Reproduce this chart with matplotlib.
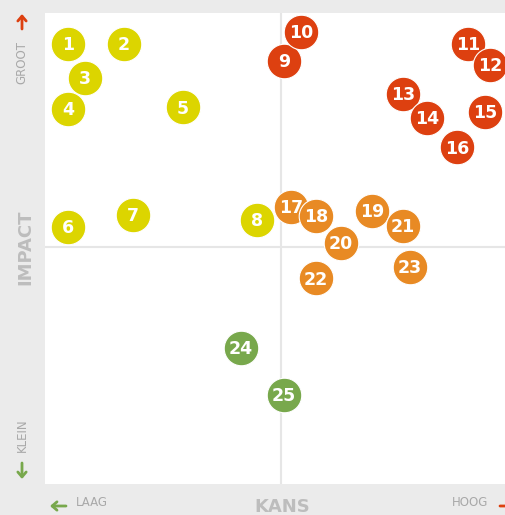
import matplotlib.pyplot as plt

# risk id, chance (kans) and impact on a 0-100 scale
ids = list(range(1, 26))
kans = [5.0, 17.1, 8.7, 5.0, 29.9, 5.0, 19.1, 46.0,
        51.8, 55.5, 91.8, 96.5, 77.7, 82.9, 95.4, 89.4,
        53.4, 58.8, 70.9, 64.2, 77.7, 58.8, 79.2,
        42.5, 51.8]
impact = [93.4, 93.4, 86.2, 79.6, 80.0, 54.6, 57.1, 56.1,
          89.8, 96.0, 93.4, 89.0, 82.8, 77.7, 79.0, 71.5,
          58.8, 56.9, 58.0, 51.2, 54.8, 43.7, 46.1,
          28.9, 18.9]
groups = ["geel"] * 8 + ["rood"] * 8 + ["oranje"] * 7 + ["groen"] * 2

COLORS = {"geel": "#dcd500", "rood": "#dd4010", "oranje": "#e88a24", "groen": "#78a84c"}
GRAY_BG = "#ebebeb"
TXT = "#a8a8a8"
H = 515

fig = plt.figure(figsize=(5.06, 5.15), dpi=100)
fig.patch.set_facecolor(GRAY_BG)
ax = fig.add_axes([45 / 506, 31 / 515, 461 / 506, 471 / 515])
ax.set_facecolor("white")
ax.set_xlim(0, 100)
ax.set_ylim(0, 100)
for s in ax.spines.values():
    s.set_visible(False)
ax.set_xticks([])
ax.set_yticks([])

# quadrant lines
ax.axvline(51.2, color="#e6e6e6", lw=1.5, zorder=0)
ax.axhline(50.3, color="#e6e6e6", lw=1.5, zorder=0)

for i, x, y, g in zip(ids, kans, impact, groups):
    ax.scatter([x], [y], s=620, color=COLORS[g], edgecolors="white",
               linewidths=0.8, zorder=2 + i * 0.01, clip_on=False)
    ax.text(x, y - 0.3, str(i), color="white", fontsize=12.5, fontweight="bold",
            ha="center", va="center", zorder=2 + i * 0.01 + 0.005)


def arrow(x0, y0, x1, y1, color):
    # coordinates in pixels from the top-left corner
    fig.add_artist(plt.Annotation(
        "", xy=(x1, H - y1), xytext=(x0, H - y0), xycoords="figure pixels",
        arrowprops=dict(arrowstyle="->,head_length=0.35,head_width=0.3",
                        color=color, lw=2, shrinkA=0, shrinkB=0)))


# axis labels
arrow(22, 29, 22, 14, "#dd4010")
fig.text(22 / 506, 1 - 63 / 515, "GROOT", color=TXT, fontsize=8.5, rotation=90,
         ha="center", va="center")
fig.text(25 / 506, 1 - 247 / 515, "IMPACT", color="#bdbdbd", fontsize=13,
         fontweight="bold", rotation=90, ha="center", va="center")
fig.text(22 / 506, 1 - 435 / 515, "KLEIN", color=TXT, fontsize=8.5, rotation=90,
         ha="center", va="center")
arrow(22, 463, 22, 479, "#78a84c")

arrow(66, 506, 50, 506, "#78a84c")
fig.text(76 / 506, 1 - 503 / 515, "LAAG", color=TXT, fontsize=8.5,
         ha="left", va="center")
fig.text(282 / 506, 1 - 507 / 515, "KANS", color="#bdbdbd", fontsize=13,
         fontweight="bold", ha="center", va="center")
fig.text(488 / 506, 1 - 503 / 515, "HOOG", color=TXT, fontsize=8.5,
         ha="right", va="center")
arrow(500, 506, 514, 506, "#dd4010")

fig.savefig("out.png", dpi=100, facecolor=fig.get_facecolor())
